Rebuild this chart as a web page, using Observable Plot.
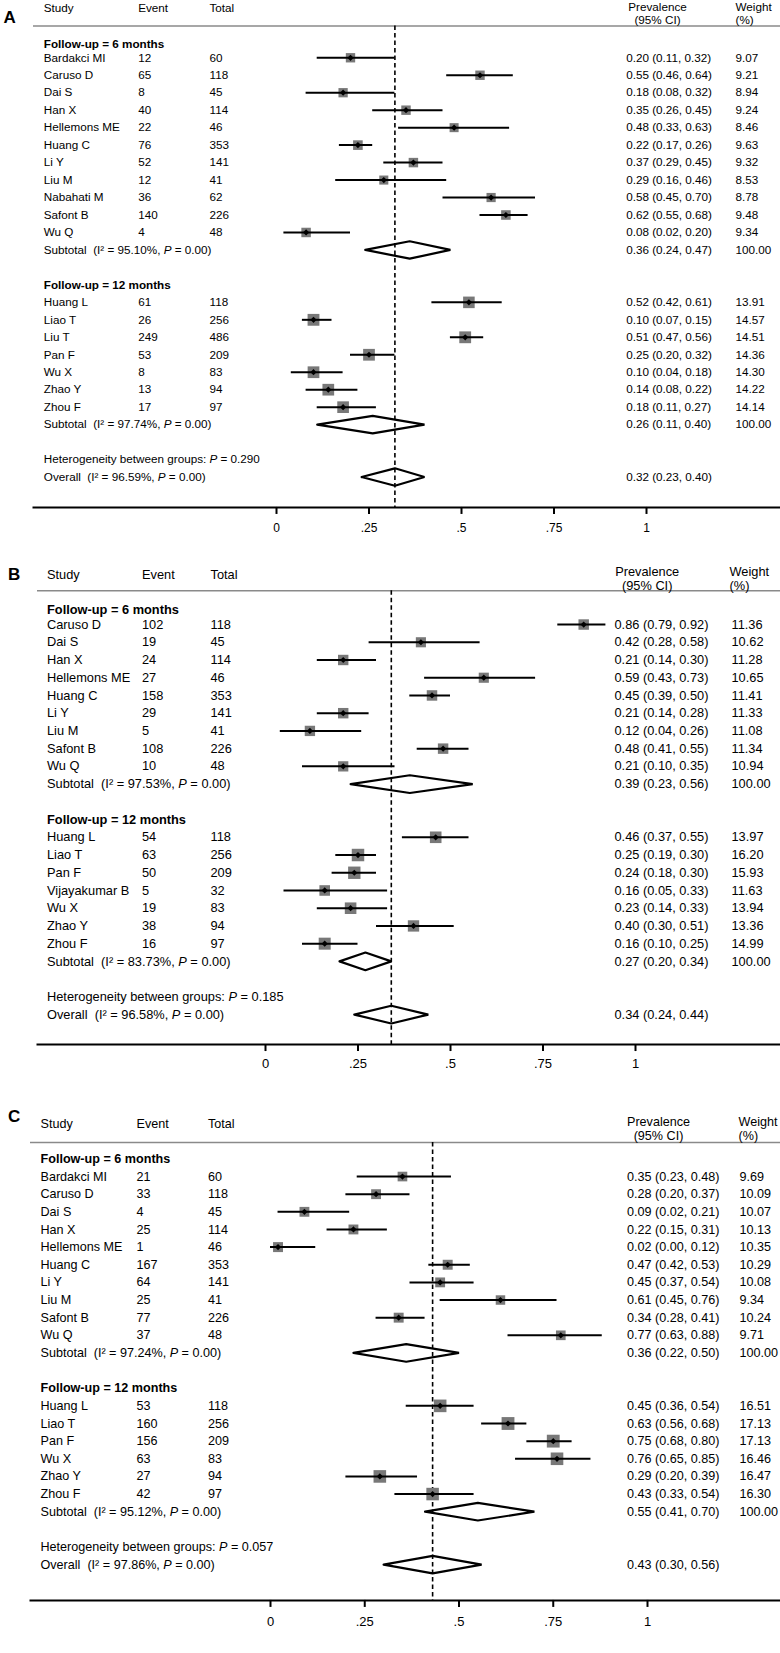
<!DOCTYPE html>
<html><head><meta charset="utf-8">
<script src="https://cdn.jsdelivr.net/npm/d3@7"></script>
<script src="https://cdn.jsdelivr.net/npm/@observablehq/plot@0.6"></script>
<style>
html,body{margin:0;padding:0;background:#fff;}
#root{position:relative;width:780px;height:1653px;overflow:hidden;background:#fff;}
.panel{position:absolute;left:0;}
svg text{white-space:pre;}
</style></head><body><div id="root"></div>
<script>
// ---------- shared ----------
const groups = [6, 12];
const tickValues = [0, 0.25, 0.5, 0.75, 1];

// ---------- Panel A ----------
const A_study = ["Bardakci MI","Caruso D","Dai S","Han X","Hellemons ME","Huang C","Li Y","Liu M","Nabahati M","Safont B","Wu Q","Huang L","Liao T","Liu T","Pan F","Wu X","Zhao Y","Zhou F"];
const A_group = [6,6,6,6,6,6,6,6,6,6,6,12,12,12,12,12,12,12];
const A_event = [12,65,8,40,22,76,52,12,36,140,4,61,26,249,53,8,13,17];
const A_total = [60,118,45,114,46,353,141,41,62,226,48,118,256,486,209,83,94,97];
const A_prev = [0.20,0.55,0.18,0.35,0.48,0.22,0.37,0.29,0.58,0.62,0.08,0.52,0.10,0.51,0.25,0.10,0.14,0.18];
const A_lo = [0.11,0.46,0.08,0.26,0.33,0.17,0.29,0.16,0.45,0.55,0.02,0.42,0.07,0.47,0.20,0.04,0.08,0.11];
const A_hi = [0.32,0.64,0.32,0.45,0.63,0.26,0.45,0.46,0.70,0.68,0.20,0.61,0.15,0.56,0.32,0.18,0.22,0.27];
const A_weight = [9.07,9.21,8.94,9.24,8.46,9.63,9.32,8.53,8.78,9.48,9.34,13.91,14.57,14.51,14.36,14.30,14.22,14.14];
const A_subI2 = ["95.10","97.74"];
const A_subP = ["0.00","0.00"];
const A_subPrev = [0.36,0.26];
const A_subLo = [0.24,0.11];
const A_subHi = [0.47,0.40];
const A_overall = [0.32,0.23,0.40];
const A_overallI2 = "96.59";
const A_overallP = "0.00";
const A_hetP = "0.290";

// ---------- Panel B ----------
const B_study = ["Caruso D","Dai S","Han X","Hellemons ME","Huang C","Li Y","Liu M","Safont B","Wu Q","Huang L","Liao T","Pan F","Vijayakumar B","Wu X","Zhao Y","Zhou F"];
const B_group = [6,6,6,6,6,6,6,6,6,12,12,12,12,12,12,12];
const B_event = [102,19,24,27,158,29,5,108,10,54,63,50,5,19,38,16];
const B_total = [118,45,114,46,353,141,41,226,48,118,256,209,32,83,94,97];
const B_prev = [0.86,0.42,0.21,0.59,0.45,0.21,0.12,0.48,0.21,0.46,0.25,0.24,0.16,0.23,0.40,0.16];
const B_lo = [0.79,0.28,0.14,0.43,0.39,0.14,0.04,0.41,0.10,0.37,0.19,0.18,0.05,0.14,0.30,0.10];
const B_hi = [0.92,0.58,0.30,0.73,0.50,0.28,0.26,0.55,0.35,0.55,0.30,0.30,0.33,0.33,0.51,0.25];
const B_weight = [11.36,10.62,11.28,10.65,11.41,11.33,11.08,11.34,10.94,13.97,16.20,15.93,11.63,13.94,13.36,14.99];
const B_subI2 = ["97.53","83.73"];
const B_subP = ["0.00","0.00"];
const B_subPrev = [0.39,0.27];
const B_subLo = [0.23,0.20];
const B_subHi = [0.56,0.34];
const B_overall = [0.34,0.24,0.44];
const B_overallI2 = "96.58";
const B_overallP = "0.00";
const B_hetP = "0.185";

// ---------- Panel C ----------
const C_study = ["Bardakci MI","Caruso D","Dai S","Han X","Hellemons ME","Huang C","Li Y","Liu M","Safont B","Wu Q","Huang L","Liao T","Pan F","Wu X","Zhao Y","Zhou F"];
const C_group = [6,6,6,6,6,6,6,6,6,6,12,12,12,12,12,12];
const C_event = [21,33,4,25,1,167,64,25,77,37,53,160,156,63,27,42];
const C_total = [60,118,45,114,46,353,141,41,226,48,118,256,209,83,94,97];
const C_prev = [0.35,0.28,0.09,0.22,0.02,0.47,0.45,0.61,0.34,0.77,0.45,0.63,0.75,0.76,0.29,0.43];
const C_lo = [0.23,0.20,0.02,0.15,0.00,0.42,0.37,0.45,0.28,0.63,0.36,0.56,0.68,0.65,0.20,0.33];
const C_hi = [0.48,0.37,0.21,0.31,0.12,0.53,0.54,0.76,0.41,0.88,0.54,0.68,0.80,0.85,0.39,0.54];
const C_weight = [9.69,10.09,10.07,10.13,10.35,10.29,10.08,9.34,10.24,9.71,16.51,17.13,17.13,16.46,16.47,16.30];
const C_subI2 = ["97.24","95.12"];
const C_subP = ["0.00","0.00"];
const C_subPrev = [0.36,0.55];
const C_subLo = [0.22,0.41];
const C_subHi = [0.50,0.70];
const C_overall = [0.43,0.30,0.56];
const C_overallI2 = "97.86";
const C_overallP = "0.00";
const C_hetP = "0.057";

const panelData = {
  A: {study:A_study, group:A_group, event:A_event, total:A_total, prev:A_prev, lo:A_lo, hi:A_hi, weight:A_weight,
      subI2:A_subI2, subP:A_subP, subPrev:A_subPrev, subLo:A_subLo, subHi:A_subHi,
      overall:A_overall, overallI2:A_overallI2, overallP:A_overallP, hetP:A_hetP},
  B: {study:B_study, group:B_group, event:B_event, total:B_total, prev:B_prev, lo:B_lo, hi:B_hi, weight:B_weight,
      subI2:B_subI2, subP:B_subP, subPrev:B_subPrev, subLo:B_subLo, subHi:B_subHi,
      overall:B_overall, overallI2:B_overallI2, overallP:B_overallP, hetP:B_hetP},
  C: {study:C_study, group:C_group, event:C_event, total:C_total, prev:C_prev, lo:C_lo, hi:C_hi, weight:C_weight,
      subI2:C_subI2, subP:C_subP, subPrev:C_subPrev, subLo:C_subLo, subHi:C_subHi,
      overall:C_overall, overallI2:C_overallI2, overallP:C_overallP, hetP:C_hetP}
};

// ---------- layout (positions / styles) ----------
const regular = "'Liberation Sans', Arial, Helvetica, sans-serif";
const layout = {
  A: {top:0, height:545, ml:33, x0:276, x1:646, row0:39.8, step:17.47, axisRow:26.74,
      fs:11.7, tickFs:12, tickPad:9,
      col:{study:43.3, event:137.7, total:209, prev:625.7, weight:735, prevHead:657, weightHead:735},
      head:{study:-1.82, prev:-1.92, ci:-1.15, line:-0.82}, firstHeader:0.2,
      letter:{x:3, row:-1.32}, diamondHalf:0.5},
  B: {top:545, height:540, ml:37, x0:265, x1:635, row0:61.3, step:17.73, axisRow:24.69,
      fs:12.8, tickFs:13, tickPad:7,
      col:{study:46.5, event:141.5, total:210, prev:614, weight:731, prevHead:646.7, weightHead:729},
      head:{study:-1.82, prev:-1.98, ci:-1.2, line:-0.9}, firstHeader:0.2,
      letter:{x:7.5, row:-1.82}, diamondHalf:0.5},
  C: {top:1085, height:568, ml:30, x0:270, x1:647, row0:73.4, step:17.64, axisRow:25.03,
      fs:12.6, tickFs:13, tickPad:9,
      col:{study:40, event:136, total:207.5, prev:626.5, weight:739, prevHead:658, weightHead:738},
      head:{study:-2.0, prev:-2.1, ci:-1.32, line:-0.93}, firstHeader:0.0,
      letter:{x:7.5, row:-2.4}, diamondHalf:0.5}
};

const f2 = v => v.toFixed(2);

function buildRows(d, firstHeader) {
  const rows = [];
  let r = 0;
  groups.forEach((g, gi) => {
    rows.push({kind:"group", y: gi === 0 ? r + firstHeader : r, label:`Follow-up = ${g} months`});
    r++;
    d.study.forEach((s, i) => {
      if (d.group[i] !== g) return;
      rows.push({kind:"study", y:r, label:s, event:d.event[i], total:d.total[i],
                 est:d.prev[i], lo:d.lo[i], hi:d.hi[i], w:d.weight[i]});
      r++;
    });
    rows.push({kind:"sub", y:r, label:`Subtotal  (I\u00B2 = ${d.subI2[gi]}%, P = ${d.subP[gi]})`,
               est:d.subPrev[gi], lo:d.subLo[gi], hi:d.subHi[gi], w:100});
    r += 2;
  });
  rows.push({kind:"het", y:r, label:`Heterogeneity between groups: P = ${d.hetP}`});
  r++;
  rows.push({kind:"overall", y:r, label:`Overall  (I\u00B2 = ${d.overallI2}%, P = ${d.overallP})`,
             est:d.overall[0], lo:d.overall[1], hi:d.overall[2]});
  return rows;
}

function italicP(svg) {
  d3.select(svg).selectAll("text").each(function () {
    if (this.querySelector("tspan")) return;
    const s = this.textContent;
    if (!/P = /.test(s)) return;
    const parts = s.split(/(P)(?= = )/);
    this.textContent = "";
    parts.forEach(p => {
      if (!p) return;
      const ts = document.createElementNS("http://www.w3.org/2000/svg", "tspan");
      ts.textContent = p;
      if (p === "P") ts.setAttribute("font-style", "italic");
      this.appendChild(ts);
    });
  });
}

function drawPanel(key) {
  const L = layout[key], d = panelData[key];
  const rows = buildRows(d, L.firstHeader);
  const studies = rows.filter(r => r.kind === "study");
  const summaries = rows.filter(r => r.kind === "sub" || r.kind === "overall");
  const diamonds = [];
  summaries.forEach((r, i) => {
    const h = L.diamondHalf;
    diamonds.push({id:i, x:r.lo, y:r.y}, {id:i, x:r.est, y:r.y - h}, {id:i, x:r.hi, y:r.y},
                  {id:i, x:r.est, y:r.y + h}, {id:i, x:r.lo, y:r.y});
  });
  const axisPix = L.row0 + L.step * L.axisRow;
  const left = {frameAnchor:"left", textAnchor:"start", fontSize:L.fs};
  const dxOf = c => c - L.ml;
  const plainRows = rows.filter(r => r.kind !== "group");
  const estRows = rows.filter(r => r.est !== undefined);
  const wRows = rows.filter(r => r.kind === "study" || r.kind === "sub");

  const svg = Plot.plot({
    width: 780, height: L.height,
    marginLeft: L.ml, marginRight: 0, marginTop: 0, marginBottom: L.height - axisPix,
    x: {domain:[0, 1], range:[L.x0, L.x1], label:null},
    y: {domain:[0, 1], range:[L.row0, L.row0 + L.step], axis:null},
    r: {domain:[0, 16], range:[0, 7.0]},
    style: {fontFamily:regular, fontSize:L.fs + "px", background:"white", color:"black", overflow:"visible"},
    marks: [
      Plot.ruleY([L.head.line], {y:v => v, stroke:"#8a8a8a", strokeWidth:1.5}),
      Plot.ruleX([d.overall[0]], {x:v => v, y1:L.head.line, y2:L.axisRow, stroke:"black", strokeWidth:1.6, strokeDasharray:"4.5,3"}),
      Plot.dot(studies, {x:"est", y:"y", r:"w", symbol:"square", fill:"#787878", stroke:"none"}),
      Plot.ruleY(studies, {y:"y", x1:"lo", x2:"hi", stroke:"black", strokeWidth:2}),
      Plot.dot(studies, {x:"est", y:"y", r:2.8, symbol:"diamond2", fill:"black", stroke:"none"}),
      Plot.line(diamonds, {x:"x", y:"y", z:"id", stroke:"black", strokeWidth:2.2, strokeLinejoin:"miter"}),
      // panel letter
      Plot.text([key], {y:() => L.letter.row, text:v => v, frameAnchor:"left", textAnchor:"start", dx:dxOf(L.letter.x), fontSize:17, fontWeight:"bold"}),
      // column headers
      Plot.text(["Study"], {y:() => L.head.study, text:v => v, ...left, dx:dxOf(L.col.study)}),
      Plot.text(["Event"], {y:() => L.head.study, text:v => v, ...left, dx:dxOf(L.col.event)}),
      Plot.text(["Total"], {y:() => L.head.study, text:v => v, ...left, dx:dxOf(L.col.total)}),
      Plot.text(["Prevalence"], {y:() => L.head.prev, text:v => v, frameAnchor:"left", textAnchor:"middle", fontSize:L.fs, dx:dxOf(L.col.prevHead)}),
      Plot.text(["(95% CI)"], {y:() => L.head.ci, text:v => v, frameAnchor:"left", textAnchor:"middle", fontSize:L.fs, dx:dxOf(L.col.prevHead)}),
      Plot.text(["Weight"], {y:() => L.head.prev, text:v => v, ...left, dx:dxOf(L.col.weightHead)}),
      Plot.text(["(%)"], {y:() => L.head.ci, text:v => v, ...left, dx:dxOf(L.col.weightHead)}),
      // row texts
      Plot.text(rows.filter(r => r.kind === "group"), {y:"y", text:"label", ...left, dx:dxOf(L.col.study), fontWeight:"bold"}),
      Plot.text(plainRows, {y:"y", text:"label", ...left, dx:dxOf(L.col.study)}),
      Plot.text(studies, {y:"y", text:r => String(r.event), ...left, dx:dxOf(L.col.event)}),
      Plot.text(studies, {y:"y", text:r => String(r.total), ...left, dx:dxOf(L.col.total)}),
      Plot.text(estRows, {y:"y", text:r => `${f2(r.est)} (${f2(r.lo)}, ${f2(r.hi)})`, ...left, dx:dxOf(L.col.prev)}),
      Plot.text(wRows, {y:"y", text:r => f2(r.w), ...left, dx:dxOf(L.col.weight)}),
      // axis
      Plot.frame({anchor:"bottom", stroke:"black", strokeWidth:2}),
      Plot.axisX({ticks:tickValues, tickFormat:v => v === 0 ? "0" : v === 1 ? "1" : String(v).replace(/^0/, ""),
                  tickSize:7, tickPadding:L.tickPad, strokeWidth:2, fontSize:L.tickFs, label:null})
    ]
  });
  italicP(svg);
  const wrap = document.createElement("div");
  wrap.className = "panel";
  wrap.style.top = L.top + "px";
  wrap.appendChild(svg);
  document.getElementById("root").appendChild(wrap);
}

["A", "B", "C"].forEach(drawPanel);
</script>
</body></html>
